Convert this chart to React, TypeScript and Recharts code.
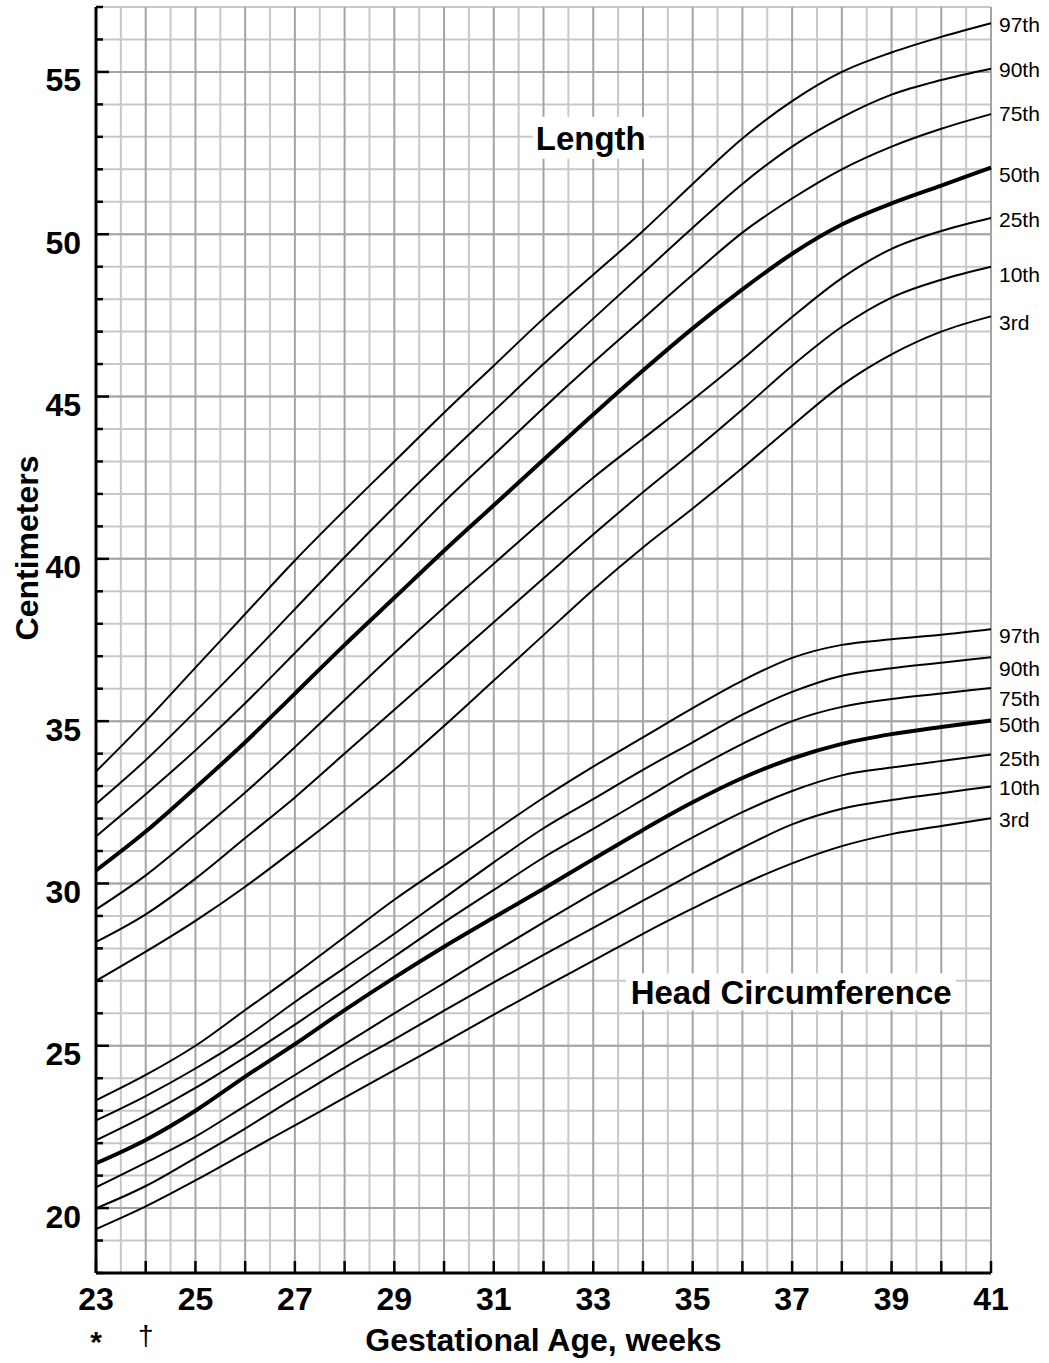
import React from "react";
import {
  LineChart,
  Line,
  XAxis,
  YAxis,
  CartesianGrid,
  ReferenceDot
} from "recharts";

const FONT = "'Liberation Sans', Arial, Helvetica, sans-serif";

// gestational age, weeks
const weeks = [23, 24, 25, 26, 27, 28, 29, 30, 31, 32, 33, 34, 35, 36, 37, 38, 39, 40, 41];

// length percentiles, cm
const length97 = [33.45, 35.0, 36.65, 38.3, 39.95, 41.5, 43.0, 44.5, 45.95, 47.4, 48.75, 50.1, 51.55, 52.95, 54.1, 55.0, 55.6, 56.08, 56.5];
const length90 = [32.45, 33.8, 35.3, 36.85, 38.45, 40.05, 41.6, 43.1, 44.55, 46.0, 47.4, 48.8, 50.2, 51.55, 52.7, 53.6, 54.3, 54.75, 55.1];
const length75 = [31.45, 32.75, 34.1, 35.55, 37.1, 38.65, 40.2, 41.75, 43.2, 44.65, 46.05, 47.4, 48.75, 50.05, 51.1, 52.0, 52.7, 53.25, 53.7];
const length50 = [30.4, 31.6, 32.95, 34.35, 35.85, 37.35, 38.8, 40.25, 41.65, 43.05, 44.45, 45.8, 47.1, 48.3, 49.4, 50.3, 50.95, 51.5, 52.05];
const length25 = [29.2, 30.25, 31.5, 32.8, 34.2, 35.65, 37.1, 38.5, 39.85, 41.2, 42.5, 43.7, 44.9, 46.15, 47.45, 48.65, 49.55, 50.1, 50.5];
const length10 = [28.2, 29.05, 30.15, 31.4, 32.65, 34.0, 35.35, 36.7, 38.05, 39.4, 40.75, 42.05, 43.3, 44.6, 45.95, 47.15, 48.05, 48.6, 49.0];
const length3 = [27.0, 27.9, 28.85, 29.9, 31.05, 32.25, 33.5, 34.85, 36.25, 37.65, 39.05, 40.35, 41.55, 42.8, 44.1, 45.35, 46.3, 47.0, 47.47];

// head circumference percentiles, cm
const head97 = [23.32, 24.1, 25.0, 26.1, 27.2, 28.35, 29.5, 30.55, 31.6, 32.64, 33.6, 34.5, 35.4, 36.25, 36.95, 37.35, 37.52, 37.66, 37.83];
const head90 = [22.7, 23.45, 24.3, 25.25, 26.35, 27.4, 28.45, 29.55, 30.65, 31.7, 32.6, 33.5, 34.35, 35.2, 35.9, 36.4, 36.63, 36.8, 36.97];
const head75 = [22.09, 22.85, 23.7, 24.65, 25.65, 26.7, 27.75, 28.8, 29.8, 30.8, 31.68, 32.58, 33.48, 34.3, 35.0, 35.44, 35.68, 35.85, 36.02];
const head50 = [21.38, 22.1, 23.0, 24.05, 25.05, 26.1, 27.1, 28.05, 28.95, 29.84, 30.75, 31.65, 32.5, 33.25, 33.85, 34.3, 34.6, 34.82, 35.02];
const head25 = [20.64, 21.4, 22.2, 23.15, 24.1, 25.05, 26.0, 26.93, 27.88, 28.8, 29.7, 30.57, 31.42, 32.2, 32.85, 33.33, 33.57, 33.77, 33.97];
const head10 = [19.99, 20.68, 21.55, 22.45, 23.4, 24.33, 25.2, 26.08, 26.95, 27.8, 28.63, 29.47, 30.3, 31.1, 31.82, 32.3, 32.57, 32.78, 32.99];
const head3 = [19.35, 20.05, 20.85, 21.7, 22.55, 23.4, 24.25, 25.1, 25.96, 26.8, 27.62, 28.45, 29.23, 29.97, 30.62, 31.15, 31.52, 31.77, 32.01];

// axis ticks / grid
const weekLabels = [23, 25, 27, 29, 31, 33, 35, 37, 39, 41];
const halfWeeks = [23.5, 24.5, 25.5, 26.5, 27.5, 28.5, 29.5, 30.5, 31.5, 32.5, 33.5, 34.5, 35.5, 36.5, 37.5, 38.5, 39.5, 40.5];
const cmTicks = [18, 19, 20, 21, 22, 23, 24, 25, 26, 27, 28, 29, 30, 31, 32, 33, 34, 35, 36, 37, 38, 39, 40, 41, 42, 43, 44, 45, 46, 47, 48, 49, 50, 51, 52, 53, 54, 55, 56, 57];
const cmLabels = [20, 25, 30, 35, 40, 45, 50, 55];

const series = [
  { key: "L97", values: length97, name: "97th", dy: 1 },
  { key: "L90", values: length90, name: "90th", dy: 0.5 },
  { key: "L75", values: length75, name: "75th", dy: -0.5 },
  { key: "L50", values: length50, name: "50th", dy: 6.5, thick: true },
  { key: "L25", values: length25, name: "25th", dy: 1.5 },
  { key: "L10", values: length10, name: "10th", dy: 7.5 },
  { key: "L3", values: length3, name: "3rd", dy: 6.5 },
  { key: "H97", values: head97, name: "97th", dy: 6.5 },
  { key: "H90", values: head90, name: "90th", dy: 11.5 },
  { key: "H75", values: head75, name: "75th", dy: 10 },
  { key: "H50", values: head50, name: "50th", dy: 4, thick: true },
  { key: "H25", values: head25, name: "25th", dy: 3.5 },
  { key: "H10", values: head10, name: "10th", dy: 1.5 },
  { key: "H3", values: head3, name: "3rd", dy: 1.5 }
];

const chartData = weeks.map((w, i) => {
  const row: any = { week: w };
  series.forEach(s => {
    row[s.key] = s.values[i];
  });
  return row;
});

const LIGHT = "#c8c8c8";
const DARK = "#a4a4a4";

function BottomTick({ x, y, payload }: any) {
  const v = payload.value;
  return (
    <g>
      <line x1={x} x2={x} y1={y} y2={y - 12} stroke="#000" strokeWidth={2.5} />
      {weekLabels.includes(v) && (
        <text x={x} y={y + 37} textAnchor="middle" fontSize={32} fontWeight="bold" fontFamily={FONT} fill="#000">
          {v}
        </text>
      )}
      {v === 23 && (
        <text x={x} y={y + 79} textAnchor="middle" fontSize={30} fontWeight="bold" fontFamily={FONT} fill="#000">*</text>
      )}
      {v === 24 && (
        <text x={x} y={y + 72} textAnchor="middle" fontSize={28} fontFamily={FONT} fill="#000">†</text>
      )}
    </g>
  );
}

function LeftTick({ x, y, payload }: any) {
  const major = cmLabels.includes(payload.value);
  return (
    <g>
      <line x1={x} x2={x + (major ? 13 : 7)} y1={y} y2={y} stroke="#000" strokeWidth={2.5} />
      {major && (
        <text x={x - 15} y={y + 19.5} textAnchor="end" fontSize={32} fontWeight="bold" fontFamily={FONT} fill="#000">
          {payload.value}
        </text>
      )}
    </g>
  );
}

function RightTick({ x, y }: any) {
  return <line x1={x - 7} x2={x} y1={y} y2={y} stroke="#000" strokeWidth={2.5} />;
}

function TitleBox({ cx, cy, text, w, h }: any) {
  return (
    <g>
      <rect x={cx - w / 2} y={cy - h / 2} width={w} height={h} fill="#fff" />
      <text x={cx} y={cy + 12} textAnchor="middle" fontSize={33} fontWeight="bold" fontFamily={FONT} fill="#000">
        {text}
      </text>
    </g>
  );
}

export default function App() {
  return (
    <div style={{ position: "absolute", left: 0, top: 0, background: "#fff", fontFamily: FONT }}>
      <LineChart
        width={1049}
        height={1363}
        data={chartData}
        margin={{ top: 7, right: 58, left: 0, bottom: 0 }}
      >
        <CartesianGrid vertical={true} horizontal={false} verticalValues={halfWeeks} stroke={LIGHT} strokeWidth={2} />
        <CartesianGrid vertical={false} horizontal={true} horizontalValues={cmTicks} stroke={LIGHT} strokeWidth={2} />
        <CartesianGrid vertical={true} horizontal={false} verticalValues={weeks} stroke={DARK} strokeWidth={2} />
        <CartesianGrid vertical={false} horizontal={true} horizontalValues={cmLabels} stroke={DARK} strokeWidth={2} />

        <XAxis
          dataKey="week"
          type="number"
          domain={[23, 41]}
          ticks={weeks}
          interval={0}
          height={90}
          tickSize={0}
          tickMargin={0}
          tickLine={false}
          tick={<BottomTick />}
          axisLine={{ stroke: "#000", strokeWidth: 3 }}
          label={{
            value: "Gestational Age, weeks",
            position: "insideBottom",
            offset: 12,
            style: { fontSize: 32, fontWeight: "bold", fontFamily: FONT, fill: "#000" }
          }}
        />
        <XAxis
          xAxisId="top"
          dataKey="week"
          type="number"
          orientation="top"
          domain={[23, 41]}
          height={0}
          tick={false}
          tickLine={false}
          axisLine={{ stroke: "#000", strokeWidth: 3 }}
        />
        <YAxis
          type="number"
          domain={[18, 57]}
          ticks={cmTicks}
          interval={0}
          width={96}
          tickSize={0}
          tickMargin={0}
          tickLine={false}
          tick={<LeftTick />}
          axisLine={{ stroke: "#000", strokeWidth: 3 }}
          label={{
            content: () => (
              <text
                x={38}
                y={548}
                transform="rotate(-90 38 548)"
                textAnchor="middle"
                fontSize={32}
                fontWeight="bold"
                fontFamily={FONT}
                fill="#000"
              >
                Centimeters
              </text>
            )
          }}
        />
        <YAxis
          yAxisId="right"
          orientation="right"
          type="number"
          domain={[18, 57]}
          ticks={cmTicks}
          interval={0}
          width={0}
          tickSize={0}
          tickMargin={0}
          tickLine={false}
          tick={<RightTick />}
          axisLine={{ stroke: "#000", strokeWidth: 3 }}
        />

        {series.map(s => (
          <Line
            key={s.key}
            type="monotone"
            dataKey={s.key}
            stroke="#000"
            strokeWidth={s.thick ? 4 : 2}
            dot={false}
            activeDot={false}
            isAnimationActive={false}
            label={(p: any) => {
              if (p.index !== weeks.length - 1) return null;
              const px = p.viewBox?.x ?? p.x;
              const py = p.viewBox?.y ?? p.y;
              return (
                <text x={px + 8} y={py + s.dy + 7.5} fontSize={21} fontFamily={FONT} fill="#000">
                  {s.name}
                </text>
              );
            }}
          />
        ))}

        <ReferenceDot
          x={32.95}
          y={52.97}
          r={1}
          isFront
          shape={(p: any) => <TitleBox cx={p.cx} cy={p.cy} text="Length" w={116} h={42} />}
        />
        <ReferenceDot
          x={36.98}
          y={26.66}
          r={1}
          isFront
          shape={(p: any) => <TitleBox cx={p.cx} cy={p.cy} text="Head Circumference" w={330} h={37} />}
        />
      </LineChart>
    </div>
  );
}
